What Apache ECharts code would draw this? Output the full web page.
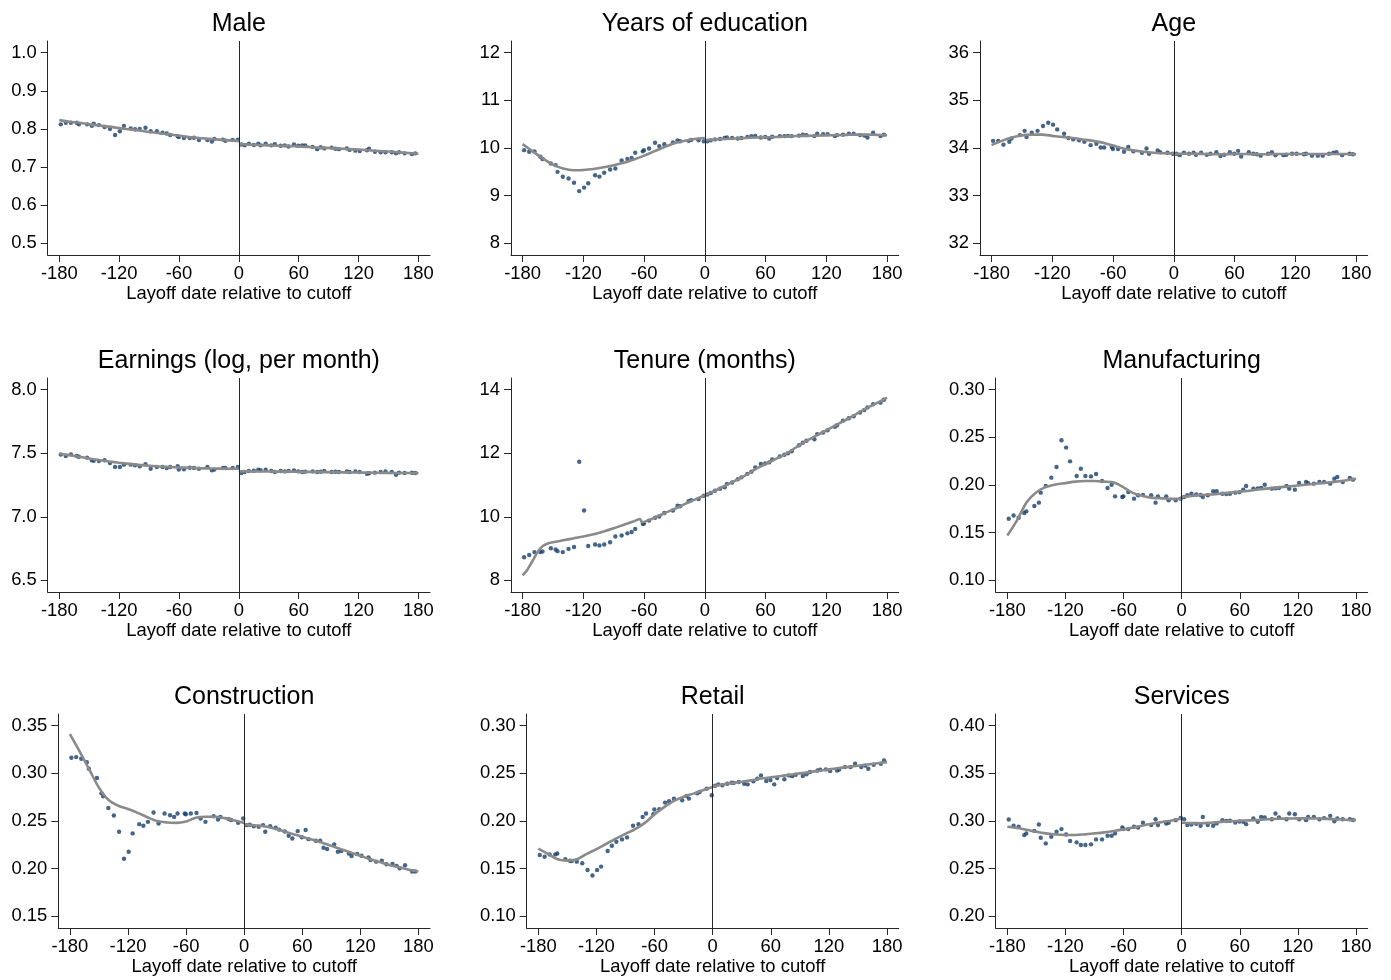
<!DOCTYPE html>
<html>
<head>
<meta charset="utf-8">
<script src="https://cdn.jsdelivr.net/npm/echarts@6/dist/echarts.min.js"></script>
<style>
  html, body { margin: 0; padding: 0; background: #fff; }
  #chart { width: 1391px; height: 980px; }
</style>
</head>
<body>
<div id="chart"></div>
<script>
// ---- Bin positions (days relative to the cutoff), shared by all panels ----
const binDaysLeft = [-178.5, -173.5, -168.3, -162.5, -160.4, -152.1, -147.4, -145.5, -140.3, -134.6, -129.2, -124.1,
  -119.3, -115.2, -108.4, -104.1, -99.4, -93.6, -88.4, -82.2, -76.5, -72.3, -68.8, -61.3, -60.2, -55.1, -49.2, -45.0,
  -40.0, -31.5, -27.0, -24.5, -16.0, -13.5, -6.2, -1.0];
const binDaysRight = [2.5, 5.8, 10.0, 15.0, 19.5, 21.8, 26.9, 32.5, 36.1, 42.0, 46.0, 49.8, 55.3, 59.6, 63.5, 66.5,
  74.0, 78.5, 82.0, 85.7, 93.0, 96.8, 100.4, 108.2, 111.0, 116.8, 121.2, 128.4, 130.5, 136.4, 142.2, 147.0, 153.3,
  157.5, 160.6, 166.2, 173.5, 176.8];

// Grid on which the smoothed fits are evaluated
const fitDaysLeft = [-180, -170, -160, -150, -140, -130, -120, -110, -100, -90, -80, -70, -60, -50, -40, -30, -20, -10, 0];
const fitDaysRight = [0, 10, 20, 30, 40, 50, 60, 70, 80, 90, 100, 110, 120, 130, 140, 150, 160, 170, 180];
const tenureFitDaysLeft = [-180, -176, -170, -165, -160, -155, -150, -140, -130, -120, -110, -100, -90, -80, -70, -64,
  -62, -60, -50, -40, -30, -20, -10, 0];

const xTickDays = [-180, -120, -60, 0, 60, 120, 180];
const xAxisTitle = 'Layoff date relative to cutoff';

// ---- Male ----
const maleLeft = [0.812, 0.816, 0.816, 0.816, 0.812, 0.812, 0.808, 0.814, 0.810, 0.805, 0.800, 0.784, 0.794, 0.808,
  0.801, 0.799, 0.800, 0.803, 0.794, 0.794, 0.790, 0.788, 0.784, 0.781, 0.779, 0.776, 0.776, 0.777, 0.771, 0.771,
  0.767, 0.774, 0.772, 0.769, 0.771, 0.772];
const maleRight = [0.759, 0.757, 0.761, 0.758, 0.761, 0.757, 0.761, 0.757, 0.760, 0.756, 0.757, 0.754, 0.759, 0.756,
  0.757, 0.757, 0.753, 0.747, 0.752, 0.749, 0.751, 0.748, 0.747, 0.749, 0.745, 0.743, 0.742, 0.744, 0.748, 0.740,
  0.739, 0.739, 0.739, 0.736, 0.739, 0.736, 0.734, 0.736];
const maleFitLeft = [0.823, 0.819, 0.816, 0.812, 0.809, 0.806, 0.802, 0.799, 0.796, 0.792, 0.789, 0.786, 0.782, 0.779,
  0.776, 0.774, 0.772, 0.770, 0.768];
const maleFitRight = [0.760, 0.759, 0.758, 0.757, 0.756, 0.755, 0.754, 0.753, 0.751, 0.750, 0.749, 0.747, 0.746, 0.744,
  0.742, 0.741, 0.739, 0.737, 0.735];
const maleTicks = [0.5, 0.6, 0.7, 0.8, 0.9, 1.0];

// ---- Years of education ----
const eduLeft = [9.955, 9.92, 9.93, 9.815, 9.77, 9.675, 9.64, 9.50, 9.396, 9.36, 9.27, 9.096, 9.17, 9.26, 9.43, 9.40,
  9.48, 9.55, 9.57, 9.74, 9.77, 9.79, 9.90, 9.93, 9.955, 9.99, 10.11, 10.04, 10.08, 10.115, 10.16, 10.14, 10.15, 10.17,
  10.16, 10.14];
const eduRight = [10.14, 10.16, 10.18, 10.19, 10.21, 10.22, 10.21, 10.20, 10.21, 10.23, 10.25, 10.255, 10.22, 10.23,
  10.20, 10.235, 10.25, 10.25, 10.255, 10.25, 10.26, 10.28, 10.27, 10.25, 10.30, 10.29, 10.29, 10.25, 10.27, 10.28,
  10.30, 10.30, 10.27, 10.26, 10.22, 10.32, 10.25, 10.28];
const eduFitLeft = [10.08, 9.93, 9.78, 9.65, 9.57, 9.535, 9.54, 9.56, 9.595, 9.64, 9.69, 9.76, 9.84, 9.93, 10.02, 10.10,
  10.15, 10.19, 10.21];
const eduFitRight = [10.16, 10.18, 10.19, 10.20, 10.21, 10.22, 10.225, 10.23, 10.24, 10.25, 10.255, 10.26, 10.265,
  10.27, 10.275, 10.28, 10.28, 10.275, 10.27];
const eduTicks = [8, 9, 10, 11, 12];

// ---- Age ----
const ageLeft = [34.15, 34.15, 34.07, 34.13, 34.20, 34.27, 34.36, 34.23, 34.32, 34.36, 34.46, 34.53, 34.49, 34.39,
  34.30, 34.21, 34.18, 34.16, 34.13, 34.06, 34.09, 34.01, 34.01, 34.02, 33.98, 33.98, 33.92, 34.02, 33.93, 33.90,
  33.99, 33.88, 33.95, 33.91, 33.90, 33.88];
const ageRight = [33.88, 33.85, 33.90, 33.88, 33.90, 33.86, 33.90, 33.86, 33.88, 33.91, 33.83, 33.86, 33.91, 33.88,
  33.94, 33.82, 33.91, 33.88, 33.87, 33.84, 33.88, 33.91, 33.85, 33.85, 33.86, 33.88, 33.88, 33.87, 33.88, 33.84,
  33.84, 33.84, 33.88, 33.90, 33.91, 33.85, 33.88, 33.87];
const ageFitLeft = [34.06, 34.15, 34.22, 34.265, 34.28, 34.28, 34.255, 34.23, 34.21, 34.18, 34.15, 34.11, 34.05, 33.99,
  33.95, 33.92, 33.90, 33.89, 33.885];
const ageFitRight = [33.88, 33.88, 33.88, 33.875, 33.87, 33.87, 33.875, 33.875, 33.87, 33.87, 33.875, 33.875, 33.875,
  33.875, 33.875, 33.875, 33.875, 33.875, 33.87];
const ageTicks = [32, 33, 34, 35, 36];

// ---- Earnings (log, per month) ----
const earnLeft = [7.489, 7.478, 7.491, 7.478, 7.472, 7.465, 7.444, 7.440, 7.439, 7.444, 7.423, 7.392, 7.392, 7.410,
  7.410, 7.405, 7.397, 7.413, 7.378, 7.392, 7.392, 7.384, 7.392, 7.397, 7.371, 7.373, 7.386, 7.384, 7.378, 7.392,
  7.365, 7.371, 7.384, 7.384, 7.384, 7.392];
const earnRight = [7.344, 7.352, 7.360, 7.362, 7.370, 7.366, 7.370, 7.360, 7.352, 7.360, 7.357, 7.360, 7.365, 7.357,
  7.352, 7.355, 7.357, 7.352, 7.354, 7.360, 7.352, 7.354, 7.352, 7.357, 7.352, 7.357, 7.352, 7.339, 7.342, 7.347,
  7.352, 7.357, 7.352, 7.331, 7.347, 7.344, 7.346, 7.344];
const earnFitLeft = [7.497, 7.485, 7.472, 7.458, 7.446, 7.435, 7.425, 7.416, 7.408, 7.401, 7.396, 7.392, 7.388, 7.385,
  7.382, 7.380, 7.379, 7.378, 7.378];
const earnFitRight = [7.357, 7.357, 7.356, 7.356, 7.355, 7.355, 7.354, 7.353, 7.352, 7.351, 7.350, 7.349, 7.348, 7.347,
  7.346, 7.345, 7.344, 7.344, 7.343];
const earnTicks = [6.5, 7.0, 7.5, 8.0];

// ---- Tenure (months) ----
const tenureLeft = [8.73, 8.80, 8.89, 8.89, 8.91, 9.01, 8.97, 8.92, 8.89, 8.99, 9.05, 11.73, 10.20, 9.08, 9.13, 9.10,
  9.13, 9.20, 9.38, 9.41, 9.48, 9.52, 9.62, 9.78, 9.79, 9.88, 9.97, 10.01, 10.12, 10.20, 10.35, 10.33, 10.49, 10.52,
  10.56, 10.66];
const tenureRight = [10.70, 10.75, 10.82, 10.88, 10.93, 11.03, 11.08, 11.18, 11.24, 11.35, 11.42, 11.55, 11.66, 11.68,
  11.71, 11.80, 11.90, 11.95, 12.00, 12.06, 12.25, 12.33, 12.39, 12.44, 12.60, 12.65, 12.72, 12.83, 12.88, 13.02,
  13.10, 13.16, 13.28, 13.36, 13.44, 13.54, 13.59, 13.68];
const tenureFitLeft = [8.16, 8.30, 8.62, 8.90, 9.08, 9.16, 9.20, 9.26, 9.32, 9.38, 9.45, 9.54, 9.64, 9.75, 9.86, 9.93,
  9.83, 9.84, 9.97, 10.11, 10.25, 10.40, 10.54, 10.68];
const tenureFitRight = [10.68, 10.82, 10.98, 11.14, 11.30, 11.50, 11.66, 11.82, 11.98, 12.18, 12.38, 12.55, 12.72,
  12.89, 13.06, 13.24, 13.42, 13.58, 13.75];
const tenureTicks = [8, 10, 12, 14];

// ---- Manufacturing ----
const mfgLeft = [0.1647, 0.168, 0.1657, 0.1706, 0.1724, 0.178, 0.1815, 0.192, 0.199, 0.2077, 0.2189, 0.2469, 0.2392,
  0.2248, 0.2094, 0.2171, 0.2094, 0.209, 0.2115, 0.2042, 0.1969, 0.2003, 0.1881, 0.1874, 0.1881, 0.1927, 0.1857,
  0.1892, 0.1895, 0.1892, 0.1815, 0.1881, 0.1881, 0.1839, 0.1839, 0.1857];
const mfgRight = [0.1875, 0.1892, 0.1909, 0.1900, 0.1895, 0.1874, 0.1892, 0.1934, 0.1934, 0.1909, 0.1905, 0.1909,
  0.192, 0.1925, 0.1950, 0.1990, 0.1962, 0.1965, 0.1970, 0.2003, 0.1962, 0.1965, 0.1969, 0.199, 0.1962, 0.1951,
  0.2021, 0.2031, 0.2020, 0.2014, 0.2031, 0.2031, 0.2014, 0.2066, 0.2084, 0.2031, 0.2073, 0.2056];
const mfgFitLeft = [0.147, 0.163, 0.182, 0.1925, 0.198, 0.2005, 0.202, 0.2035, 0.2042, 0.2042, 0.2035, 0.2025, 0.1975,
  0.1915, 0.1885, 0.1865, 0.186, 0.1855, 0.1855];
const mfgFitRight = [0.1875, 0.1885, 0.1895, 0.190, 0.191, 0.192, 0.193, 0.194, 0.1955, 0.1965, 0.1975, 0.1985, 0.1995,
  0.2005, 0.2015, 0.2025, 0.2035, 0.205, 0.2065];
const mfgTicks = [0.10, 0.15, 0.20, 0.25, 0.30];

// ---- Construction ----
const conLeft = [0.3163, 0.317, 0.3152, 0.3117, 0.3048, 0.295, 0.279, 0.276, 0.2637, 0.2557, 0.2387, 0.2105, 0.2178,
  0.2370, 0.2467, 0.245, 0.2491, 0.2589, 0.2474, 0.2578, 0.2561, 0.2543, 0.2578, 0.2578, 0.2571, 0.2578, 0.2585,
  0.2526, 0.2491, 0.2550, 0.2516, 0.2543, 0.2520, 0.2510, 0.2481, 0.2526];
const conRight = [0.2457, 0.2460, 0.2445, 0.2440, 0.2457, 0.2387, 0.2446, 0.2429, 0.2410, 0.2390, 0.2345, 0.2317,
  0.2394, 0.2330, 0.2405, 0.2310, 0.2293, 0.2293, 0.2220, 0.2206, 0.2255, 0.2178, 0.2185, 0.2160, 0.2133, 0.2154,
  0.2136, 0.2119, 0.2091, 0.2074, 0.2084, 0.2046, 0.2050, 0.2030, 0.2004, 0.2036, 0.1970, 0.1970];
const conFitLeft = [0.341, 0.323, 0.304, 0.285, 0.272, 0.266, 0.2625, 0.2585, 0.254, 0.250, 0.2485, 0.248, 0.2495,
  0.2535, 0.2545, 0.2545, 0.253, 0.2505, 0.248];
const conFitRight = [0.2465, 0.2455, 0.2445, 0.2425, 0.2395, 0.2365, 0.2335, 0.2305, 0.2275, 0.2240, 0.2205, 0.2170,
  0.2135, 0.2100, 0.2070, 0.2040, 0.2015, 0.1990, 0.1970];
const conTicks = [0.15, 0.20, 0.25, 0.30, 0.35];

// ---- Retail ----
const retLeft = [0.1643, 0.1626, 0.165, 0.165, 0.166, 0.160, 0.1584, 0.1580, 0.1574, 0.1557, 0.1487, 0.1428, 0.1487,
  0.1522, 0.1685, 0.1741, 0.1783, 0.1807, 0.1828, 0.195, 0.1967, 0.2043, 0.2078, 0.2071, 0.212, 0.2123, 0.2193,
  0.2207, 0.2235, 0.2217, 0.2263, 0.2235, 0.2290, 0.2304, 0.2339, 0.227];
const retRight = [0.2370, 0.2384, 0.2374, 0.2390, 0.2402, 0.2400, 0.2409, 0.2391, 0.2384, 0.2416, 0.2443, 0.2478,
  0.2419, 0.2430, 0.2384, 0.245, 0.2437, 0.2478, 0.2470, 0.2485, 0.2471, 0.2490, 0.2513, 0.253, 0.2537, 0.2541,
  0.2523, 0.253, 0.2540, 0.2565, 0.2565, 0.26, 0.2565, 0.2580, 0.2548, 0.2590, 0.2600, 0.2635];
const retFitLeft = [0.171, 0.1655, 0.1598, 0.1585, 0.160, 0.1655, 0.1705, 0.176, 0.1815, 0.1865, 0.1915, 0.198, 0.207,
  0.2145, 0.221, 0.2255, 0.2287, 0.2323, 0.2357];
const retFitRight = [0.2363, 0.2383, 0.2398, 0.2412, 0.2427, 0.2445, 0.2458, 0.2471, 0.2485, 0.2499, 0.2513, 0.2527,
  0.2541, 0.2554, 0.2567, 0.2580, 0.2593, 0.2605, 0.2617];
const retTicks = [0.10, 0.15, 0.20, 0.25, 0.30];

// ---- Services ----
const svcLeft = [0.3016, 0.295, 0.2939, 0.2852, 0.287, 0.2897, 0.2963, 0.2824, 0.2765, 0.2835, 0.2887, 0.2915, 0.2859,
  0.279, 0.2776, 0.2748, 0.2748, 0.2755, 0.2807, 0.2807, 0.2845, 0.2845, 0.287, 0.2932, 0.2915, 0.2915, 0.2939,
  0.2932, 0.2981, 0.2957, 0.3019, 0.2957, 0.2974, 0.2981, 0.3009, 0.3033];
const svcRight = [0.3019, 0.2957, 0.2963, 0.2970, 0.2950, 0.3043, 0.2957, 0.2950, 0.2975, 0.3009, 0.3000, 0.3002,
  0.2984, 0.2995, 0.2991, 0.2967, 0.3026, 0.2991, 0.3043, 0.3036, 0.3019, 0.3078, 0.3036, 0.3019, 0.3078, 0.3071,
  0.3019, 0.3009, 0.3043, 0.3043, 0.3019, 0.3030, 0.3054, 0.2998, 0.3026, 0.3019, 0.3019, 0.3010];
const svcFitLeft = [0.2939, 0.2927, 0.2908, 0.2887, 0.2870, 0.2858, 0.2853, 0.2853, 0.2860, 0.2870, 0.2881, 0.2895,
  0.2912, 0.2932, 0.2953, 0.2973, 0.2990, 0.3006, 0.3026];
const svcFitRight = [0.2981, 0.2978, 0.2976, 0.2982, 0.2991, 0.2997, 0.3002, 0.3007, 0.3012, 0.3018, 0.3023, 0.3026,
  0.3027, 0.3027, 0.3026, 0.3022, 0.3018, 0.3013, 0.3009];
const svcTicks = [0.20, 0.25, 0.30, 0.35, 0.40];

// ---- Panel definitions (row-major) ----
const panels = [
  { title: 'Male', left: maleLeft, right: maleRight, fitL: maleFitLeft, fitR: maleFitRight, ticks: maleTicks, dec: 1 },
  { title: 'Years of education', left: eduLeft, right: eduRight, fitL: eduFitLeft, fitR: eduFitRight, ticks: eduTicks, dec: 0 },
  { title: 'Age', left: ageLeft, right: ageRight, fitL: ageFitLeft, fitR: ageFitRight, ticks: ageTicks, dec: 0 },
  { title: 'Earnings (log, per month)', left: earnLeft, right: earnRight, fitL: earnFitLeft, fitR: earnFitRight, ticks: earnTicks, dec: 1 },
  { title: 'Tenure (months)', left: tenureLeft, right: tenureRight, fitL: tenureFitLeft, fitR: tenureFitRight, ticks: tenureTicks, dec: 0, fitDaysL: tenureFitDaysLeft },
  { title: 'Manufacturing', left: mfgLeft, right: mfgRight, fitL: mfgFitLeft, fitR: mfgFitRight, ticks: mfgTicks, dec: 2 },
  { title: 'Construction', left: conLeft, right: conRight, fitL: conFitLeft, fitR: conFitRight, ticks: conTicks, dec: 2 },
  { title: 'Retail', left: retLeft, right: retRight, fitL: retFitLeft, fitR: retFitRight, ticks: retTicks, dec: 2 },
  { title: 'Services', left: svcLeft, right: svcRight, fitL: svcFitLeft, fitR: svcFitRight, ticks: svcTicks, dec: 2 }
];

// Plot frames in pixels: [axis left x, axis right x, top y]
const frames = [
  [47.7, 430, 41], [511, 898.7, 41], [980, 1367.7, 41],
  [47.7, 430, 378], [511, 898.7, 378], [995.7, 1367.7, 378],
  [58.3, 430, 714], [526.7, 898.7, 714], [995.7, 1367.7, 714]
];
const FRAME_H = 214;
const EDGE_PAD = 11.6;       // gap between the outer tick and the axis end, px

const FONT = "'Liberation Sans', Arial, Helvetica, sans-serif";
const DOT = '#163f6b';
const FIT = '#8a8a8a';
const AXIS = '#262626';

const option = {
  animation: false,
  backgroundColor: '#fff',
  title: [], grid: [], xAxis: [], yAxis: [], series: []
};

const pair = (xs, ys) => xs.map((x, i) => [x, ys[i]]);

panels.forEach((p, i) => {
  const [x0, x1, top] = frames[i];
  const w = x1 - x0;
  const dayPad = EDGE_PAD * 360 / (w - 2 * EDGE_PAD);
  const tMin = p.ticks[0], tMax = p.ticks[p.ticks.length - 1];
  const yPad = (tMax - tMin) * EDGE_PAD / (FRAME_H - 2 * EDGE_PAD);

  option.title.push({
    text: p.title,
    left: (x0 + x1) / 2,
    top: top - 29,
    textAlign: 'center',
    padding: 0,
    textStyle: { fontFamily: FONT, fontSize: 25, fontWeight: 'normal', color: '#000' }
  });

  option.grid.push({ left: x0, width: w, top: top, height: FRAME_H, containLabel: false });

  option.xAxis.push({
    type: 'value', gridIndex: i,
    min: -180 - dayPad, max: 180 + dayPad,
    name: xAxisTitle, nameLocation: 'middle', nameGap: 29.5,
    nameTextStyle: { fontFamily: FONT, fontSize: 18.4, color: '#000' },
    splitLine: { show: false },
    axisLine: { onZero: false, lineStyle: { color: AXIS, width: 1 } },
    axisTick: { show: true, length: 7, customValues: xTickDays, lineStyle: { color: AXIS, width: 1 } },
    axisLabel: { customValues: xTickDays, margin: 10, fontFamily: FONT, fontSize: 18.4, color: '#000',
      formatter: v => String(Math.round(v)) }
  });

  option.yAxis.push({
    type: 'value', gridIndex: i,
    min: tMin - yPad, max: tMax + yPad,
    splitLine: { show: false },
    axisLine: { show: true, onZero: false, lineStyle: { color: AXIS, width: 1 } },
    axisTick: { show: true, length: 7, customValues: p.ticks, lineStyle: { color: AXIS, width: 1 } },
    axisLabel: { customValues: p.ticks, margin: 11, fontFamily: FONT, fontSize: 18.4, color: '#000',
      formatter: v => v.toFixed(p.dec) }
  });

  // Binned means
  option.series.push({
    type: 'scatter', xAxisIndex: i, yAxisIndex: i, z: 2,
    symbol: 'circle', symbolSize: 4.4,
    itemStyle: { color: DOT },
    data: pair(binDaysLeft, p.left).concat(pair(binDaysRight, p.right)),
    markLine: {
      silent: true, symbol: ['none', 'none'], label: { show: false },
      lineStyle: { color: AXIS, width: 1, type: 'solid' },
      data: [{ xAxis: 0 }]
    }
  });

  // Smoothed fits, estimated separately on each side of the cutoff
  [[p.fitDaysL || fitDaysLeft, p.fitL], [fitDaysRight, p.fitR]].forEach(([xs, ys]) => {
    option.series.push({
      type: 'line', xAxisIndex: i, yAxisIndex: i, z: 3,
      showSymbol: false, symbol: 'none', smooth: 0.3,
      lineStyle: { color: FIT, width: 2.6 },
      data: pair(xs, ys)
    });
  });
});

const chart = echarts.init(document.getElementById('chart'), null, { renderer: 'canvas' });
chart.setOption(option);
</script>
</body>
</html>
